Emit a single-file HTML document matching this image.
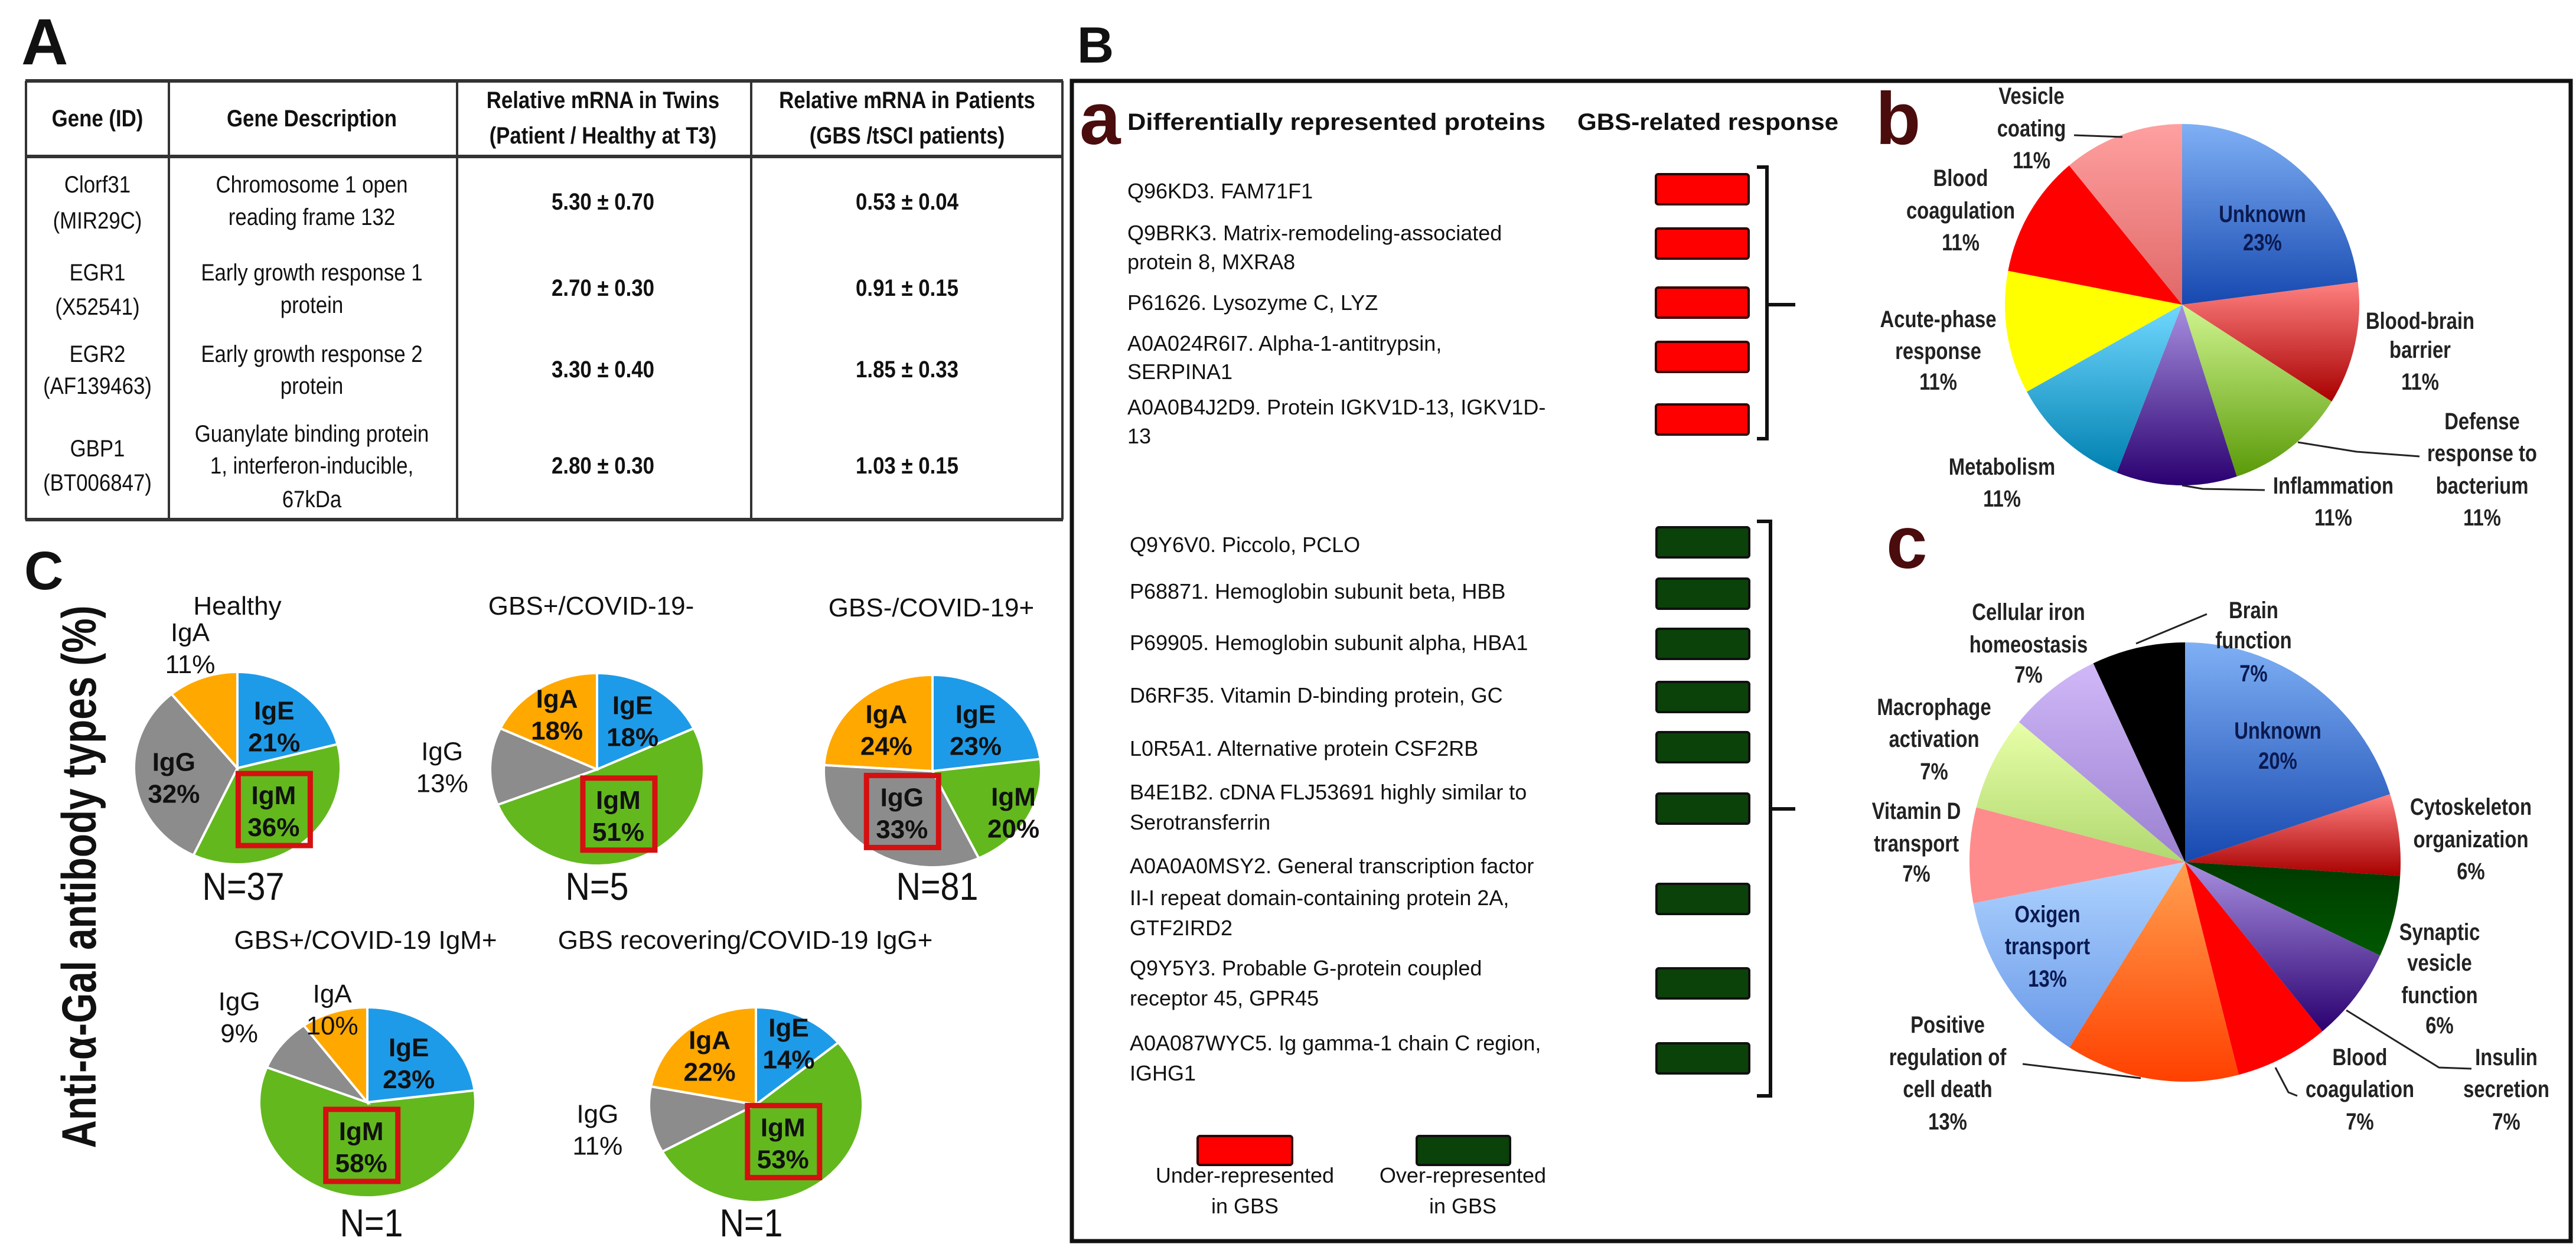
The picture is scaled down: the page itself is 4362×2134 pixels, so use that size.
<!DOCTYPE html>
<html><head><meta charset="utf-8">
<style>
html,body{margin:0;padding:0;background:#fff;}
svg{display:block;}
text{font-family:"Liberation Sans",sans-serif;fill:#111;}
.tb{font-size:40px;font-weight:bold;}
.tr{font-size:40px;}
.pa{font-size:36px;}
.pl{font-size:40px;font-weight:bold;fill:#222;}
.ct{font-size:44px;}
.cl{font-size:44px;font-weight:bold;}
.nn{font-size:66px;}
.big{font-weight:bold;}
.brown{fill:#4a0c0c;font-weight:bold;}
</style></head>
<body>
<svg id="fig" width="4362" height="2134" viewBox="0 0 4362 2134" xmlns="http://www.w3.org/2000/svg">
<defs>
<linearGradient id="gBlue" x1="0" y1="0" x2="0" y2="1"><stop offset="0" stop-color="#7fb0f5"/><stop offset="1" stop-color="#1648b0"/></linearGradient>
<linearGradient id="gRed" x1="0" y1="0" x2="0" y2="1"><stop offset="0" stop-color="#ff8080"/><stop offset="1" stop-color="#a80000"/></linearGradient>
<linearGradient id="gLGreen" x1="0" y1="0" x2="0" y2="1"><stop offset="0" stop-color="#d0f590"/><stop offset="1" stop-color="#5a9a08"/></linearGradient>
<linearGradient id="gPurple" x1="0" y1="0" x2="0" y2="1"><stop offset="0" stop-color="#a890e0"/><stop offset="1" stop-color="#2a0070"/></linearGradient>
<linearGradient id="gCyan" x1="0" y1="0" x2="0" y2="1"><stop offset="0" stop-color="#70d8ff"/><stop offset="1" stop-color="#0080b0"/></linearGradient>
<linearGradient id="gPink" x1="0" y1="0" x2="0" y2="1"><stop offset="0" stop-color="#ffa0a0"/><stop offset="1" stop-color="#e06868"/></linearGradient>
<linearGradient id="gOrange" x1="0" y1="0" x2="0" y2="1"><stop offset="0" stop-color="#ffa050"/><stop offset="1" stop-color="#ff4000"/></linearGradient>
<linearGradient id="gSky" x1="0" y1="0" x2="0" y2="1"><stop offset="0" stop-color="#b0d4ff"/><stop offset="1" stop-color="#6898e8"/></linearGradient>
<linearGradient id="gLime" x1="0" y1="0" x2="0" y2="1"><stop offset="0" stop-color="#e8ffa8"/><stop offset="1" stop-color="#b0d870"/></linearGradient>
<linearGradient id="gLav" x1="0" y1="0" x2="0" y2="1"><stop offset="0" stop-color="#d0b8f8"/><stop offset="1" stop-color="#9a80d0"/></linearGradient>
<linearGradient id="gDGreen" x1="0" y1="0" x2="0" y2="1"><stop offset="0" stop-color="#003a00"/><stop offset="1" stop-color="#005800"/></linearGradient>
</defs>

<!-- Panel A -->
<text x="36" y="109" style="font-size:110px;font-weight:bold">A</text>
<g id="table" stroke="#333" fill="none">
  <line x1="43" y1="137" x2="1800" y2="137" stroke-width="6"/>
  <line x1="43" y1="265" x2="1800" y2="265" stroke-width="6"/>
  <line x1="43" y1="880" x2="1800" y2="880" stroke-width="6"/>
  <line x1="44" y1="137" x2="44" y2="880" stroke-width="4"/>
  <line x1="286" y1="137" x2="286" y2="880" stroke-width="4"/>
  <line x1="774" y1="137" x2="774" y2="880" stroke-width="4"/>
  <line x1="1272" y1="137" x2="1272" y2="880" stroke-width="4"/>
  <line x1="1799" y1="137" x2="1799" y2="880" stroke-width="4"/>
</g>
<g text-anchor="middle">
<text class="tb n" x="165" y="214">Gene (ID)</text>
<text class="tb n" x="528" y="214">Gene Description</text>
<text class="tb n" x="1021" y="183">Relative mRNA in Twins</text>
<text class="tb n" x="1021" y="243">(Patient / Healthy at T3)</text>
<text class="tb n" x="1536" y="183">Relative mRNA in Patients</text>
<text class="tb n" x="1536" y="243">(GBS /tSCI patients)</text>

<text class="tr n" x="165" y="326">Clorf31</text>
<text class="tr n" x="165" y="387">(MIR29C)</text>
<text class="tr n" x="528" y="326">Chromosome 1 open</text>
<text class="tr n" x="528" y="381">reading frame 132</text>
<text class="tb n" x="1021" y="355">5.30 ± 0.70</text>
<text class="tb n" x="1536" y="355">0.53 ± 0.04</text>

<text class="tr n" x="165" y="475">EGR1</text>
<text class="tr n" x="165" y="533">(X52541)</text>
<text class="tr n" x="528" y="475">Early growth response 1</text>
<text class="tr n" x="528" y="530">protein</text>
<text class="tb n" x="1021" y="501">2.70 ± 0.30</text>
<text class="tb n" x="1536" y="501">0.91 ± 0.15</text>

<text class="tr n" x="165" y="613">EGR2</text>
<text class="tr n" x="165" y="667">(AF139463)</text>
<text class="tr n" x="528" y="613">Early growth response 2</text>
<text class="tr n" x="528" y="667">protein</text>
<text class="tb n" x="1021" y="639">3.30 ± 0.40</text>
<text class="tb n" x="1536" y="639">1.85 ± 0.33</text>

<text class="tr n" x="165" y="773">GBP1</text>
<text class="tr n" x="165" y="831">(BT006847)</text>
<text class="tr n" x="528" y="748">Guanylate binding protein</text>
<text class="tr n" x="528" y="802">1, interferon-inducible,</text>
<text class="tr n" x="528" y="859">67kDa</text>
<text class="tb n" x="1021" y="802">2.80 ± 0.30</text>
<text class="tb n" x="1536" y="802">1.03 ± 0.15</text>
</g>

<!-- Panel C -->
<text x="41" y="998" style="font-size:92px;font-weight:bold">C</text>
<text x="0" y="0" transform="translate(162,1485) rotate(-90)" text-anchor="middle" textLength="919" lengthAdjust="spacingAndGlyphs" style="font-size:82px;font-weight:bold">Anti-α-Gal antibody types (%)</text>
<g id="cPies"></g>

<!-- Panel B -->
<text x="1824" y="106" style="font-size:86px;font-weight:bold">B</text>
<rect x="1815" y="137" width="2538" height="1965" fill="none" stroke="#111" stroke-width="7"/>
<text x="1828" y="244" class="brown" style="font-size:125px">a</text>
<text x="3176" y="244" class="brown" style="font-size:125px">b</text>
<text x="3194" y="962" class="brown" style="font-size:125px">c</text>
<text x="1909" y="220" textLength="708" lengthAdjust="spacingAndGlyphs" style="font-size:40px;font-weight:bold">Differentially represented proteins</text>
<text x="2671" y="220" textLength="442" lengthAdjust="spacingAndGlyphs" style="font-size:40px;font-weight:bold">GBS-related response</text>

<g class="plist">
<text class="pa" x="1909" y="336">Q96KD3. FAM71F1</text>
<text class="pa" x="1909" y="407">Q9BRK3. Matrix-remodeling-associated</text>
<text class="pa" x="1909" y="456">protein 8, MXRA8</text>
<text class="pa" x="1909" y="525">P61626.  Lysozyme C, LYZ</text>
<text class="pa" x="1909" y="594">A0A024R6I7.  Alpha-1-antitrypsin,</text>
<text class="pa" x="1909" y="642">SERPINA1</text>
<text class="pa" x="1909" y="702">A0A0B4J2D9.  Protein IGKV1D-13, IGKV1D-</text>
<text class="pa" x="1909" y="751">13</text>

<text class="pa" x="1913" y="935">Q9Y6V0. Piccolo, PCLO</text>
<text class="pa" x="1913" y="1014">P68871.  Hemoglobin subunit beta, HBB</text>
<text class="pa" x="1913" y="1101">P69905.  Hemoglobin subunit alpha, HBA1</text>
<text class="pa" x="1913" y="1190">D6RF35.  Vitamin D-binding protein, GC</text>
<text class="pa" x="1913" y="1280">L0R5A1.  Alternative protein CSF2RB</text>
<text class="pa" x="1913" y="1354">B4E1B2.  cDNA FLJ53691 highly similar to</text>
<text class="pa" x="1913" y="1405">Serotransferrin</text>
<text class="pa" x="1913" y="1479">A0A0A0MSY2. General transcription factor</text>
<text class="pa" x="1913" y="1533">II-I repeat domain-containing protein 2A,</text>
<text class="pa" x="1913" y="1584">GTF2IRD2</text>
<text class="pa" x="1913" y="1652">Q9Y5Y3.  Probable G-protein coupled</text>
<text class="pa" x="1913" y="1703">receptor 45, GPR45</text>
<text class="pa" x="1913" y="1779">A0A087WYC5.  Ig gamma-1 chain C region,</text>
<text class="pa" x="1913" y="1830">IGHG1</text>
</g>
<g id="markers"></g>
<g fill="none" stroke="#111" stroke-width="6">
<path d="M2975,283 H2992 V743 H2975 M2992,516 H3040"/>
<path d="M2975,883 H2998 V1856 H2975 M2998,1370 H3040"/>
</g>
<rect x="2028" y="1924" width="160" height="49" rx="4" fill="#ff0000" stroke="#300" stroke-width="4"/>
<rect x="2399" y="1924" width="158" height="49" rx="4" fill="#0a420a" stroke="#111" stroke-width="4"/>
<g text-anchor="middle">
<text class="pa" x="2108" y="2003">Under-represented</text>
<text class="pa" x="2108" y="2055">in GBS</text>
<text class="pa" x="2477" y="2003">Over-represented</text>
<text class="pa" x="2477" y="2055">in GBS</text>
</g>

<g id="bPie"></g>
<g id="cPie"></g>

<!-- leader lines -->
<g fill="none" stroke="#222" stroke-width="3">
<line x1="3512" y1="229" x2="3594" y2="232"/>
<polyline points="3695,822 3730,828 3835,830"/>
<polyline points="3891,749 3990,765 4097,773"/>
<line x1="3617" y1="1090" x2="3737" y2="1040"/>
<line x1="3425" y1="1802" x2="3625" y2="1826"/>
<polyline points="3853,1808 3875,1850 3890,1856"/>
<polyline points="3973,1711 4130,1808 4185,1810"/>
</g>

<g text-anchor="middle" class="plabels">
<text class="pl n" x="3440" y="176">Vesicle</text>
<text class="pl n" x="3440" y="231">coating</text>
<text class="pl n" x="3440" y="285">11%</text>
<text class="pl n" x="3320" y="315">Blood</text>
<text class="pl n" x="3320" y="370">coagulation</text>
<text class="pl n" x="3320" y="424">11%</text>
<text class="pl n" x="3282" y="554">Acute-phase</text>
<text class="pl n" x="3282" y="608">response</text>
<text class="pl n" x="3282" y="660">11%</text>
<text class="pl n" x="3390" y="804">Metabolism</text>
<text class="pl n" x="3390" y="858">11%</text>
<text class="pl n" x="3951" y="836">Inflammation</text>
<text class="pl n" x="3951" y="890">11%</text>
<text class="pl n" x="4203" y="727">Defense</text>
<text class="pl n" x="4203" y="781">response to</text>
<text class="pl n" x="4203" y="836">bacterium</text>
<text class="pl n" x="4203" y="890">11%</text>
<text class="pl n" x="4098" y="557">Blood-brain</text>
<text class="pl n" x="4098" y="606">barrier</text>
<text class="pl n" x="4098" y="660">11%</text>
<text class="pl n" x="3831" y="376" style="fill:#0a1a50">Unknown</text>
<text class="pl n" x="3831" y="424" style="fill:#0a1a50">23%</text>

<text class="pl n" x="3816" y="1047">Brain</text>
<text class="pl n" x="3816" y="1098">function</text>
<text class="pl n" x="3816" y="1154" style="fill:#0a1a50">7%</text>
<text class="pl n" x="3857" y="1251" style="fill:#0a1a50">Unknown</text>
<text class="pl n" x="3857" y="1302" style="fill:#0a1a50">20%</text>
<text class="pl n" x="3435" y="1050">Cellular iron</text>
<text class="pl n" x="3435" y="1105">homeostasis</text>
<text class="pl n" x="3435" y="1156">7%</text>
<text class="pl n" x="3275" y="1211">Macrophage</text>
<text class="pl n" x="3275" y="1265">activation</text>
<text class="pl n" x="3275" y="1320">7%</text>
<text class="pl n" x="3245" y="1387">Vitamin D</text>
<text class="pl n" x="3245" y="1442">transport</text>
<text class="pl n" x="3245" y="1493">7%</text>
<text class="pl n" x="3467" y="1562" style="fill:#0a1a50">Oxigen</text>
<text class="pl n" x="3467" y="1616" style="fill:#0a1a50">transport</text>
<text class="pl n" x="3467" y="1671" style="fill:#0a1a50">13%</text>
<text class="pl n" x="3298" y="1749">Positive</text>
<text class="pl n" x="3298" y="1804">regulation of</text>
<text class="pl n" x="3298" y="1858">cell death</text>
<text class="pl n" x="3298" y="1913">13%</text>
<text class="pl n" x="3996" y="1804">Blood</text>
<text class="pl n" x="3996" y="1858">coagulation</text>
<text class="pl n" x="3996" y="1913">7%</text>
<text class="pl n" x="4244" y="1804">Insulin</text>
<text class="pl n" x="4244" y="1858">secretion</text>
<text class="pl n" x="4244" y="1913">7%</text>
<text class="pl n" x="4131" y="1592">Synaptic</text>
<text class="pl n" x="4131" y="1644">vesicle</text>
<text class="pl n" x="4131" y="1699">function</text>
<text class="pl n" x="4131" y="1750">6%</text>
<text class="pl n" x="4184" y="1380">Cytoskeleton</text>
<text class="pl n" x="4184" y="1435">organization</text>
<text class="pl n" x="4184" y="1489">6%</text>
</g>
</svg>

<script>
// ---------- data ----------
var antibodyTypes = ['IgE', 'IgM', 'IgG', 'IgA'];
var groupTitles = ['Healthy', 'GBS+/COVID-19-', 'GBS-/COVID-19+', 'GBS+/COVID-19 IgM+', 'GBS recovering/COVID-19 IgG+'];
var groupN = ['N=37', 'N=5', 'N=81', 'N=1', 'N=1'];
var healthyPct = [21, 36, 32, 11];
var gbsPosCovNegPct = [18, 51, 13, 18];
var gbsNegCovPosPct = [23, 20, 33, 24];
var gbsCovIgMPct = [23, 58, 9, 10];
var gbsRecovIgGPct = [14, 53, 11, 22];
var highlighted = ['IgM', 'IgM', 'IgG', 'IgM', 'IgM'];

var underCount = 5;
var overCount = 9;

var pieBCategories = ['Unknown', 'Blood-brain barrier', 'Defense response to bacterium', 'Inflammation', 'Metabolism', 'Acute-phase response', 'Blood coagulation', 'Vesicle coating'];
var pieBValues = [23, 11, 11, 11, 11, 11, 11, 11];
var pieCCategories = ['Unknown', 'Cytoskeleton organization', 'Synaptic vesicle function', 'Insulin secretion', 'Blood coagulation', 'Positive regulation of cell death', 'Oxigen transport', 'Vitamin D transport', 'Macrophage activation', 'Cellular iron homeostasis', 'Brain function'];
var pieCValues = [20, 6, 6, 7, 7, 13, 13, 7, 7, 7, 7];

// ---------- helpers (styles/layout) ----------
var NS = 'http://www.w3.org/2000/svg';
function mk(tag, parent) { var e = document.createElementNS(NS, tag); parent.appendChild(e); return e; }
function pt(cx, cy, rx, ry, a) { return [cx + rx * Math.sin(a), cy - ry * Math.cos(a)]; }
function slicePath(cx, cy, rx, ry, a0, a1) {
  var p0 = pt(cx, cy, rx, ry, a0), p1 = pt(cx, cy, rx, ry, a1);
  var large = (a1 - a0) > Math.PI ? 1 : 0;
  return 'M' + cx + ',' + cy + ' L' + p0[0] + ',' + p0[1] + ' A' + rx + ',' + ry + ' 0 ' + large + ' 1 ' + p1[0] + ',' + p1[1] + ' Z';
}
function drawPie(g, cx, cy, rx, ry, values, fills, names, sw) {
  var total = 0; values.forEach(function (v) { total += v; });
  var a = 0;
  var mids = [];
  for (var i = 0; i < values.length; i++) {
    var a1 = a + values[i] / total * 2 * Math.PI;
    var p = mk('path', g);
    p.setAttribute('d', slicePath(cx, cy, rx, ry, a, a1));
    p.setAttribute('fill', fills[i]);
    p.setAttribute('stroke', '#fff');
    p.setAttribute('stroke-width', sw);
    
    
    mids.push((a + a1) / 2);
    a = a1;
  }
  return mids;
}

// ---------- panel C pies ----------
var cg = document.getElementById('cPies');
var abColors = ['#1e9be8', '#63b81e', '#8c8c8c', '#ffa800'];
var allPct = [healthyPct, gbsPosCovNegPct, gbsNegCovPosPct, gbsCovIgMPct, gbsRecovIgGPct];
var layout = [
  { cx: 402, cy: 1301, rx: 175, ry: 163, tx: 402, ty: 1041, ny: 1524 },
  { cx: 1011, cy: 1303, rx: 181, ry: 163, tx: 1001, ty: 1041, ny: 1524 },
  { cx: 1579, cy: 1306, rx: 184, ry: 163, tx: 1577, ty: 1044, ny: 1524 },
  { cx: 622, cy: 1867, rx: 183, ry: 161, tx: 619, ty: 1607, ny: 2094 },
  { cx: 1280, cy: 1871, rx: 181, ry: 165, tx: 1262, ty: 1607, ny: 2094 }
];
var labelR = [
  [0.58, 0.55, 0.62, 1.35],
  [0.62, 0.5, 1.45, 0.7],
  [0.6, 0.85, 0.5, 0.62],
  [0.58, 0.45, 1.5, 1.05],
  [0.72, 0.45, 1.5, 0.68]
];
for (var k = 0; k < 5; k++) {
  var L = layout[k];
  var g = mk('g', cg);
  
  
  var mids = drawPie(g, L.cx, L.cy, L.rx, L.ry, allPct[k], abColors, antibodyTypes, 4);
  var t = mk('text', g);
  t.setAttribute('x', L.tx); t.setAttribute('y', L.ty);
  t.setAttribute('class', 'ct'); t.setAttribute('text-anchor', 'middle');
  t.textContent = groupTitles[k];
  
  
  var n = mk('text', g);
  n.setAttribute('x', L.tx + 10); n.setAttribute('y', L.ny);
  n.setAttribute('class', 'nn n'); n.setAttribute('text-anchor', 'middle');
  n.textContent = groupN[k];
  
  
  for (var i = 0; i < 4; i++) {
    var p = pt(L.cx, L.cy, L.rx * labelR[k][i], L.ry * labelR[k][i], mids[i]);
    var inside = labelR[k][i] < 1;
    if (antibodyTypes[i] === highlighted[k]) {
      var bx = mk('rect', g);
      bx.setAttribute('x', p[0] - 60); bx.setAttribute('y', p[1] - 60);
      bx.setAttribute('width', 122); bx.setAttribute('height', 122);
      bx.setAttribute('fill', 'none'); bx.setAttribute('stroke', '#d41010'); bx.setAttribute('stroke-width', 9);
      
      
    }
    var l1 = mk('text', g);
    l1.setAttribute('x', p[0]); l1.setAttribute('y', p[1] - 8);
    l1.setAttribute('class', inside ? 'cl' : 'ct'); l1.setAttribute('text-anchor', 'middle');
    l1.textContent = antibodyTypes[i];
    
    
    var l2 = mk('text', g);
    l2.setAttribute('x', p[0]); l2.setAttribute('y', p[1] + 46);
    l2.setAttribute('class', inside ? 'cl' : 'ct'); l2.setAttribute('text-anchor', 'middle');
    l2.textContent = allPct[k][i] + '%';
    
    
  }
}

// ---------- panel B markers ----------
var mg = document.getElementById('markers');
var underY = [295, 387, 487, 579, 685];
var overY = [893, 980, 1065, 1155, 1240, 1344, 1497, 1640, 1767];
for (var i = 0; i < underCount; i++) {
  var r = mk('rect', mg);
  r.setAttribute('x', 2804); r.setAttribute('y', underY[i]); r.setAttribute('width', 157); r.setAttribute('height', 51); r.setAttribute('rx', 4);
  r.setAttribute('fill', '#ff0000'); r.setAttribute('stroke', '#300'); r.setAttribute('stroke-width', 4);
  
  
}
for (var i = 0; i < overCount; i++) {
  var r = mk('rect', mg);
  r.setAttribute('x', 2805); r.setAttribute('y', overY[i]); r.setAttribute('width', 157); r.setAttribute('height', 51); r.setAttribute('rx', 4);
  r.setAttribute('fill', '#0a420a'); r.setAttribute('stroke', '#111'); r.setAttribute('stroke-width', 4);
  
  
}

// ---------- pies b and c ----------
var bFills = ['url(#gBlue)', 'url(#gRed)', 'url(#gLGreen)', 'url(#gPurple)', 'url(#gCyan)', '#ffff00', '#ff0000', 'url(#gPink)'];
drawPie(document.getElementById('bPie'), 3695, 516, 300, 306, pieBValues, bFills, pieBCategories, 0);
var cFills = ['url(#gBlue)', 'url(#gRed)', 'url(#gDGreen)', 'url(#gPurple)', '#ff0000', 'url(#gOrange)', 'url(#gSky)', '#ff8c8c', 'url(#gLime)', 'url(#gLav)', '#000000'];
drawPie(document.getElementById('cPie'), 3700, 1460, 365, 372, pieCValues, cFills, pieCCategories, 0);

// ---------- narrow font adjustment (Calibri-like) ----------
var ns = document.querySelectorAll('text.n');
for (var i = 0; i < ns.length; i++) {
  var el = ns[i];
  var w = el.getComputedTextLength();
  var f = el.classList.contains('pl') ? 0.82 : 0.87;
  el.setAttribute('textLength', (w * f).toFixed(1));
  el.setAttribute('lengthAdjust', 'spacingAndGlyphs');
}
</script>
</body></html>
